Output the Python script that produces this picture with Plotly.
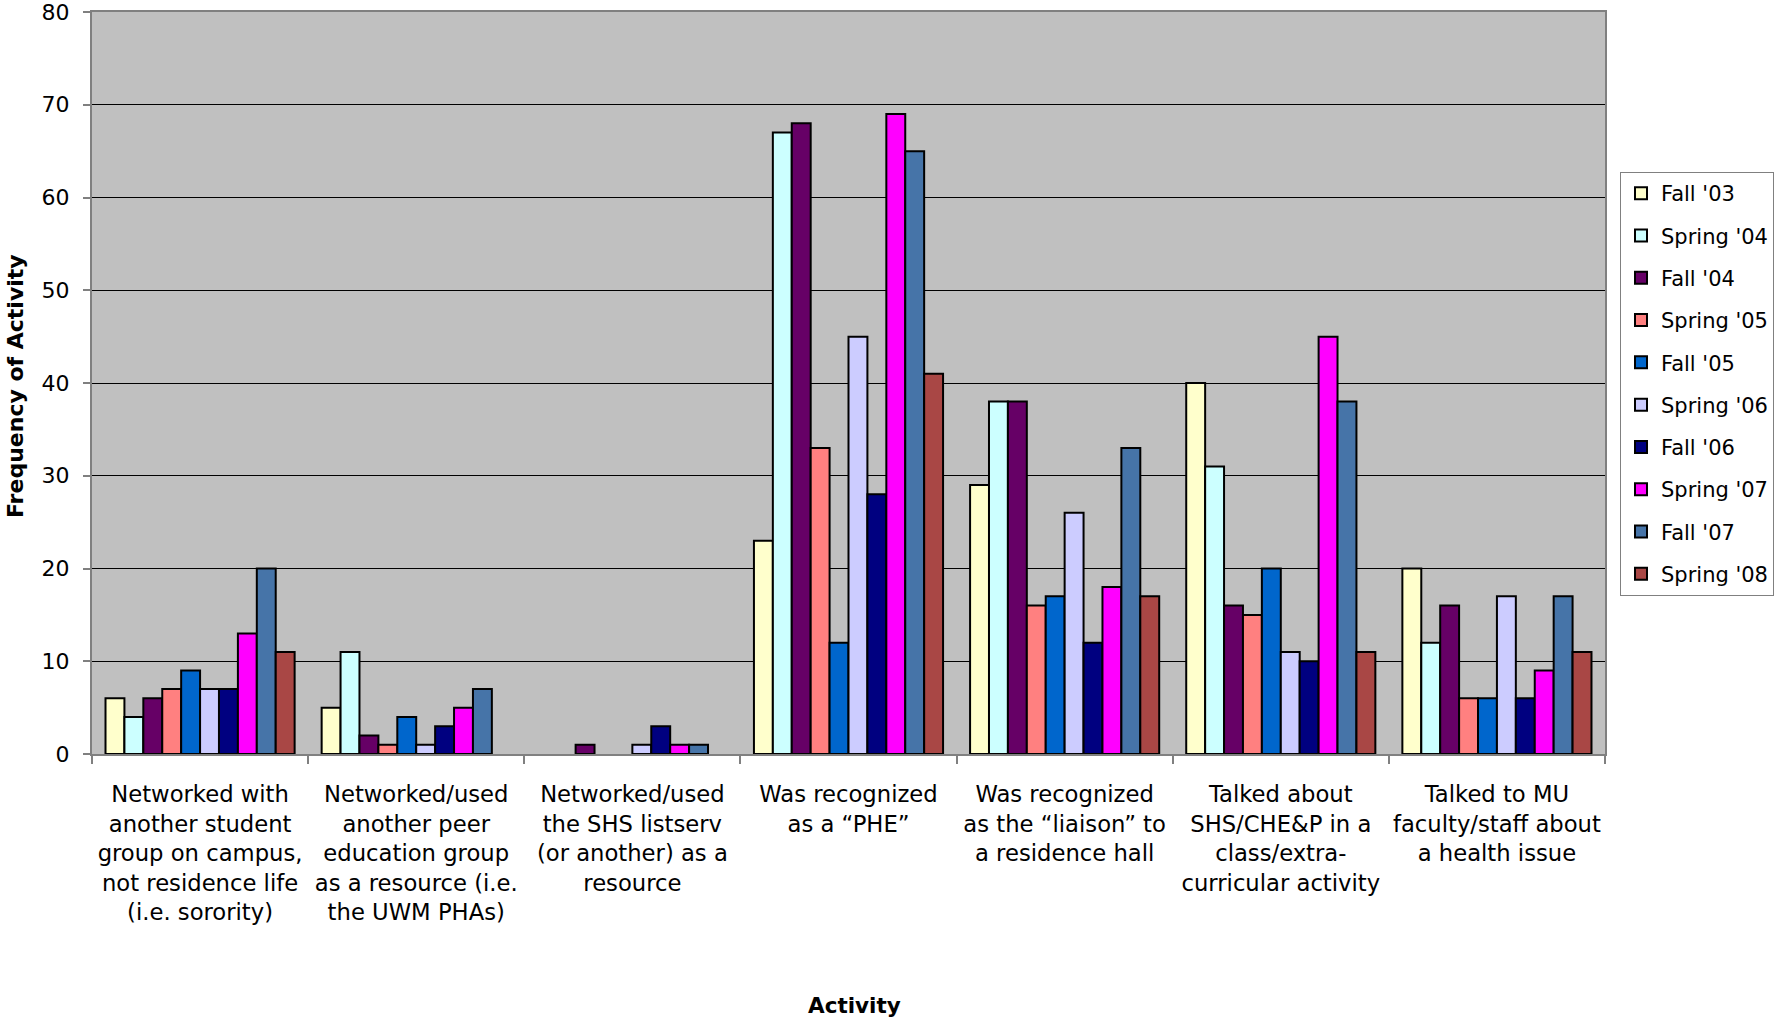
import plotly.graph_objects as go

# Activity categories (x axis), one multi-line label each
activities = [
    "Networked with<br>another student<br>group on campus,<br>not residence life<br>(i.e. sorority)",
    "Networked/used<br>another peer<br>education group<br>as a resource (i.e.<br>the UWM PHAs)",
    "Networked/used<br>the SHS listserv<br>(or another) as a<br>resource",
    "Was recognized<br>as a \u201cPHE\u201d",
    "Was recognized<br>as the \u201cliaison\u201d to<br>a residence hall",
    "Talked about<br>SHS/CHE&P in a<br>class/extra-<br>curricular activity",
    "Talked to MU<br>faculty/staff about<br>a health issue",
]

# Frequency of each activity per semester
fall_03 = [6, 5, 0, 23, 29, 40, 20]
spring_04 = [4, 11, 0, 67, 38, 31, 12]
fall_04 = [6, 2, 1, 68, 38, 16, 16]
spring_05 = [7, 1, 0, 33, 16, 15, 6]
fall_05 = [9, 4, 0, 12, 17, 20, 6]
spring_06 = [7, 1, 1, 45, 26, 11, 17]
fall_06 = [7, 3, 3, 28, 12, 10, 6]
spring_07 = [13, 5, 1, 69, 18, 45, 9]
fall_07 = [20, 7, 1, 65, 33, 38, 17]
spring_08 = [11, 0, 0, 41, 17, 11, 11]

semesters = ["Fall '03", "Spring '04", "Fall '04", "Spring '05", "Fall '05",
             "Spring '06", "Fall '06", "Spring '07", "Fall '07", "Spring '08"]
series = [fall_03, spring_04, fall_04, spring_05, fall_05,
          spring_06, fall_06, spring_07, fall_07, spring_08]
colors = ["#FFFFCC", "#CCFFFF", "#660066", "#FF8080", "#0066CC",
          "#CCCCFF", "#000080", "#FF00FF", "#4674A8", "#A94745"]

FONT = "DejaVu Sans"

fig = go.Figure()
for name, vals, col in zip(semesters, series, colors):
    # no outline on empty bars so the baseline stays clean
    outline = [2 if v > 0 else 0 for v in vals]
    fig.add_trace(go.Bar(
        x=activities, y=vals, name=name, legendgroup=name,
        marker=dict(color=col, line=dict(color="black", width=outline)),
    ))

fig.update_layout(
    width=1776, height=1022,
    margin=dict(l=92, r=171, t=12, b=268, autoexpand=False),
    paper_bgcolor="white",
    plot_bgcolor="#C0C0C0",
    barmode="group",
    bargap=0.125,
    bargroupgap=0,
    font=dict(family=FONT, size=21, color="black"),
    showlegend=True,
    legend=dict(
        x=(1620 - 92) / 1513, y=(754 - 172) / 742, xanchor="left", yanchor="top",
        bgcolor="white", bordercolor="#808080", borderwidth=1,
        font=dict(family=FONT, size=21, color="black"),
        tracegroupgap=12, traceorder="grouped",
        itemwidth=30,
    ),
    xaxis=dict(
        type="category", automargin=False, tickangle=0,
        showline=True, linecolor="#808080", linewidth=2, mirror=True,
        ticks="outside", tickson="boundaries", ticklen=8, tickcolor="#808080",
        tickwidth=2, ticklabelstandoff=19,
        tickfont=dict(family=FONT, size=22.7, color="black"),
        showgrid=False,
    ),
    yaxis=dict(
        range=[0, 80], dtick=10, automargin=False,
        showline=True, linecolor="#808080", linewidth=2, mirror=True,
        ticks="outside", ticklen=7, tickcolor="#808080", tickwidth=2,
        ticklabelstandoff=9, ticklabeloverflow="allow",
        tickfont=dict(family=FONT, size=22, color="black"),
        showgrid=True, gridcolor="black", gridwidth=1,
        zeroline=False,
    ),
    annotations=[
        dict(text="<b>Activity</b>", xref="paper", yref="paper",
             x=(854 - 92) / 1513, y=(754 - 1005) / 742,
             xanchor="center", yanchor="middle",
             showarrow=False, font=dict(family=FONT, size=21.5, color="black")),
        dict(text="<b>Frequency of Activity</b>", xref="paper", yref="paper",
             x=(15 - 92) / 1513, y=(754 - 386) / 742,
             xanchor="center", yanchor="middle",
             textangle=-90, showarrow=False,
             font=dict(family=FONT, size=22, color="black")),
    ],
)

fig.write_html("out.html")
